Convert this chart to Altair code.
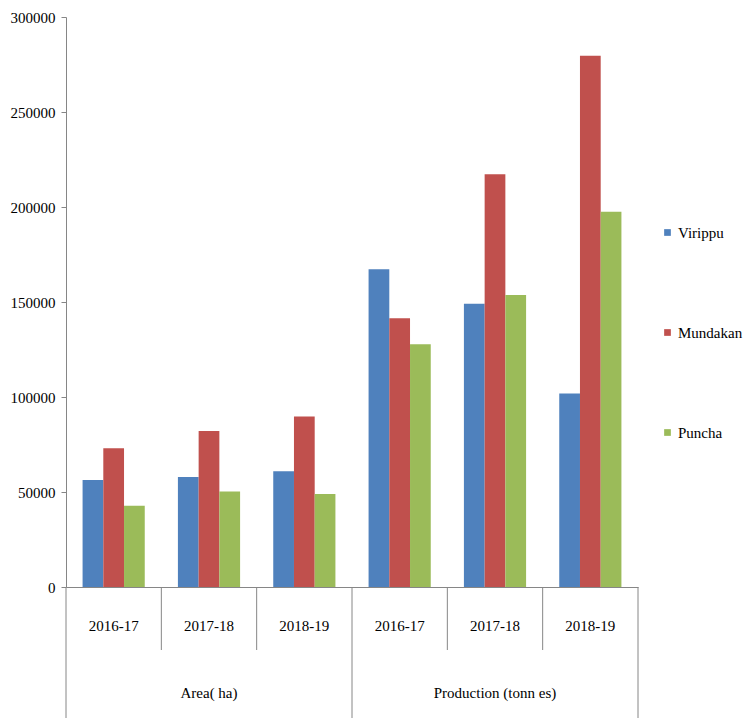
import altair as alt
import pandas as pd

groups = ["Area( ha)"] * 3 + ["Production (tonn es)"] * 3
years = ["2016-17", "2017-18", "2018-19"] * 2
seasons = ["Virippu", "Mundakan", "Puncha"]
virippu = [56300, 57900, 60900, 167200, 149100, 101900]
mundakan = [73000, 82100, 89800, 141400, 217200, 279600]
puncha = [42800, 50200, 48900, 127700, 153700, 197500]
colors = ["#4F81BD", "#C0504D", "#9BBB59"]
y_ticks = [0, 50000, 100000, 150000, 200000, 250000, 300000]

keys = [f"{g}|{y}" for g, y in zip(groups, years)]
rows = []
for i, k in enumerate(keys):
    for s, vals in zip(seasons, [virippu, mundakan, puncha]):
        rows.append({"key": k, "season": s, "value": vals[i]})
df = pd.DataFrame(rows)

FONT = "'Liberation Serif', 'DejaVu Serif', serif"
GREY = "#868686"
W, H = 572, 570

xscale = alt.Scale(domain=keys, paddingInner=0, paddingOuter=0)

bars = alt.Chart(df).mark_bar().encode(
    x=alt.X("key:N", scale=xscale, title=None,
            axis=alt.Axis(labels=False, ticks=False, domainColor=GREY)),
    xOffset=alt.XOffset("season:N", sort=seasons,
                        scale=alt.Scale(paddingOuter=0.8, paddingInner=0)),
    y=alt.Y("value:Q", scale=alt.Scale(domain=[0, 300000], nice=False), title=None,
            axis=alt.Axis(values=y_ticks, format="d", grid=False, tickSize=5,
                          labelPadding=6, domainColor=GREY, tickColor=GREY,
                          labelFont=FONT, labelFontSize=15, labelColor="#000000")),
    color=alt.Color("season:N", sort=seasons,
                    scale=alt.Scale(domain=seasons, range=colors),
                    legend=alt.Legend(title=None, orient="none", legendX=594, legendY=208,
                                      direction="vertical", symbolType="square",
                                      symbolSize=45, symbolStrokeWidth=0,
                                      labelFont=FONT, labelFontSize=15,
                                      labelColor="#000000", rowPadding=84,
                                      labelOffset=3, padding=0, labelLimit=200)),
)

short_df = pd.DataFrame({"key": [keys[1], keys[2], keys[4], keys[5]]})
long_df = pd.DataFrame({"key": [keys[0], keys[3]]})
end_df = pd.DataFrame({"key": [keys[5]]})

short_rules = alt.Chart(short_df).mark_rule(color=GREY, strokeWidth=1).encode(
    x=alt.X("key:N", scale=xscale, bandPosition=0),
    y=alt.value(H), y2=alt.value(H + 63))
long_rules = alt.Chart(long_df).mark_rule(color=GREY, strokeWidth=1).encode(
    x=alt.X("key:N", scale=xscale, bandPosition=0),
    y=alt.value(H), y2=alt.value(H + 131))
end_rule = alt.Chart(end_df).mark_rule(color=GREY, strokeWidth=1).encode(
    x=alt.X("key:N", scale=xscale, bandPosition=1),
    y=alt.value(H), y2=alt.value(H + 131))

year_df = pd.DataFrame({"key": keys, "label": years})
year_text = alt.Chart(year_df).mark_text(font=FONT, fontSize=15, color="#000000",
                                         baseline="middle", align="center").encode(
    x=alt.X("key:N", scale=xscale),
    y=alt.value(H + 39),
    text="label:N")

grp_df = pd.DataFrame({"key": [keys[1], keys[4]], "label": [groups[0], groups[3]]})
grp_text = alt.Chart(grp_df).mark_text(font=FONT, fontSize=15, color="#000000",
                                       baseline="middle", align="center").encode(
    x=alt.X("key:N", scale=xscale),
    y=alt.value(H + 106),
    text="label:N")

chart = alt.layer(bars, short_rules, long_rules, end_rule, year_text, grp_text).properties(
    width=W, height=H,
    padding={"left": 66, "top": 17, "right": 106, "bottom": 131},
    autosize=alt.AutoSizeParams(type="none"),
    background="white",
).configure_view(strokeWidth=0)

chart.save("out.html", embed_options={"renderer": "svg", "actions": False})
